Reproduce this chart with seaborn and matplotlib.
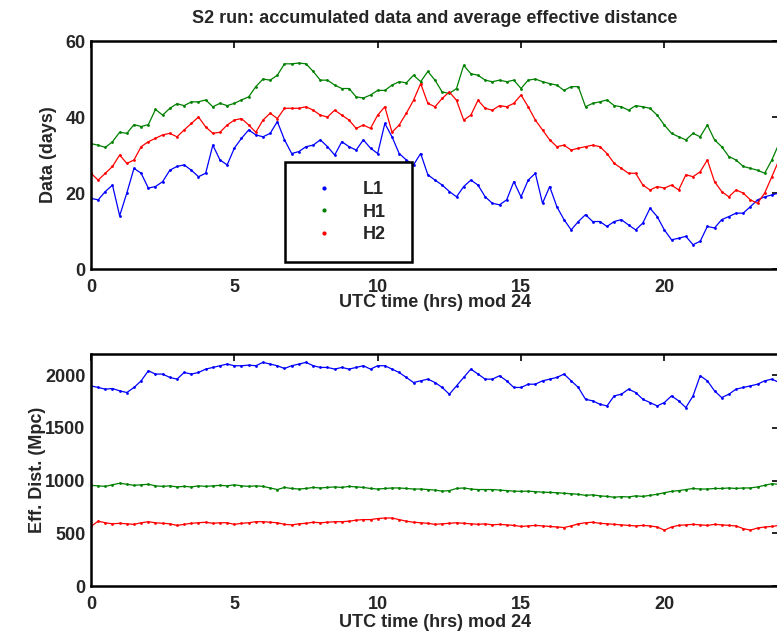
import numpy as np
import pandas as pd
import matplotlib
matplotlib.use("Agg")
import matplotlib.pyplot as plt
from matplotlib.lines import Line2D
import seaborn as sns

# sampling times (hours, UTC mod 24) at which the values were read
hours = np.arange(0, 24.01, 0.25)

detectors = ["L1", "H1", "H2"]
colors = {"L1": "#0000ff", "H1": "#008000", "H2": "#ff0000"}

# accumulated data (days)
l1_days = [18.6, 18.2, 20.4, 22.1, 14.0, 20.0, 26.5, 25.2,
           21.3, 21.7, 23.0, 26.0, 27.0, 27.4, 26.0, 24.3,
           25.2, 32.6, 28.7, 27.4, 31.8, 34.4, 36.6, 35.3,
           34.8, 35.7, 38.8, 34.0, 30.4, 30.9, 32.2, 32.6,
           34.0, 32.2, 30.0, 33.5, 32.2, 31.3, 34.0, 31.8,
           30.4, 38.3, 34.8, 30.4, 28.7, 27.4, 30.4, 24.8,
           23.4, 22.1, 20.4, 19.0, 21.7, 23.4, 22.1, 19.0,
           17.3, 16.9, 18.2, 23.0, 19.0, 23.4, 25.2, 17.3,
           21.7, 16.4, 13.0, 10.3, 12.5, 14.3, 12.5, 12.5,
           11.2, 12.5, 13.0, 11.6, 10.3, 12.1, 16.0, 13.8,
           10.3, 7.7, 8.1, 8.6, 6.4, 7.3, 11.2, 10.8,
           13.0, 13.8, 14.7, 14.7, 16.4, 18.2, 19.0, 19.5,
           20.0]
h1_days = [33.0, 32.6, 32.0, 33.5, 36.0, 35.7, 38.0, 37.5,
           38.0, 42.0, 40.5, 42.3, 43.5, 43.0, 44.0, 44.0,
           44.5, 42.7, 43.6, 43.0, 43.6, 44.5, 45.3, 48.0,
           50.0, 49.7, 51.0, 54.0, 54.0, 54.2, 54.0, 52.0,
           49.7, 49.7, 48.4, 47.5, 47.5, 45.3, 45.0, 45.8,
           47.0, 47.0, 48.4, 49.3, 49.0, 51.0, 49.3, 52.0,
           49.7, 46.6, 46.2, 47.5, 53.6, 51.4, 51.0, 49.7,
           49.3, 49.7, 49.3, 49.7, 47.5, 49.7, 50.0, 49.3,
           48.8, 48.4, 47.0, 48.0, 48.0, 42.7, 43.6, 44.0,
           44.5, 43.0, 42.7, 41.8, 43.0, 42.7, 42.3, 40.5,
           37.9, 35.7, 34.8, 34.0, 35.7, 34.8, 37.9, 34.0,
           32.2, 29.6, 28.7, 27.0, 26.5, 26.0, 25.2, 28.7,
           33.0]
h2_days = [25.2, 23.4, 25.2, 27.0, 30.0, 27.8, 28.7, 32.2,
           33.5, 34.4, 35.3, 35.7, 34.8, 36.6, 38.3, 40.0,
           37.4, 35.7, 36.0, 37.9, 39.2, 39.6, 37.9, 36.0,
           39.2, 41.0, 39.6, 42.3, 42.3, 42.3, 42.7, 41.8,
           40.5, 40.0, 41.8, 40.5, 39.2, 37.0, 37.9, 37.0,
           40.5, 42.7, 36.0, 37.9, 41.0, 44.4, 48.8, 43.6,
           42.7, 44.9, 46.6, 44.4, 39.2, 40.5, 44.4, 42.3,
           41.8, 43.0, 42.7, 43.6, 45.8, 42.7, 39.2, 36.6,
           34.0, 32.2, 32.6, 31.3, 31.8, 32.2, 32.6, 32.2,
           30.4, 27.8, 26.5, 25.2, 25.2, 22.1, 20.8, 21.7,
           21.3, 22.1, 20.8, 24.8, 24.3, 25.6, 28.7, 23.0,
           20.4, 19.0, 20.8, 20.0, 18.2, 17.3, 20.0, 24.3,
           28.7]

# average effective distance (Mpc)
l1_mpc = [1898, 1883, 1867, 1873, 1851, 1835, 1883, 1946,
          2041, 2010, 2010, 1978, 1962, 2025, 2010, 2025,
          2057, 2073, 2089, 2105, 2089, 2089, 2095, 2089,
          2121, 2105, 2089, 2063, 2089, 2105, 2121, 2089,
          2073, 2073, 2057, 2073, 2057, 2073, 2089, 2057,
          2089, 2089, 2057, 2025, 1978, 1930, 1946, 1962,
          1930, 1883, 1819, 1898, 1978, 2057, 2010, 1962,
          1962, 1994, 1946, 1883, 1883, 1914, 1914, 1946,
          1962, 1978, 2010, 1946, 1883, 1771, 1756, 1724,
          1708, 1803, 1819, 1867, 1835, 1771, 1740, 1708,
          1740, 1803, 1756, 1692, 1803, 1994, 1946, 1851,
          1787, 1819, 1867, 1883, 1898, 1914, 1946, 1962,
          1930]
h1_mpc = [955, 950, 945, 960, 975, 965, 955, 960,
          965, 950, 945, 950, 940, 945, 940, 950,
          945, 950, 955, 950, 960, 950, 945, 950,
          945, 930, 915, 935, 925, 920, 925, 935,
          930, 935, 940, 935, 945, 940, 935, 925,
          920, 925, 930, 930, 925, 920, 920, 915,
          910, 900, 905, 925, 930, 920, 915, 915,
          915, 910, 905, 900, 898, 900, 895, 890,
          888, 885, 880, 875, 870, 860, 865, 855,
          850, 842, 848, 845, 855, 850, 860, 870,
          885, 898, 905, 915, 925, 920, 920, 925,
          925, 930, 925, 930, 930, 940, 955, 970,
          965]
h2_mpc = [565, 615, 600, 590, 595, 590, 585, 600,
          610, 600, 595, 590, 575, 585, 595, 600,
          605, 595, 600, 600, 585, 595, 600, 610,
          610, 605, 600, 585, 580, 590, 595, 605,
          600, 605, 610, 610, 615, 625, 630, 630,
          640, 645, 645, 630, 615, 605, 600, 595,
          585, 590, 595, 600, 595, 590, 585, 590,
          580, 585, 580, 575, 565, 570, 575, 570,
          565, 560, 555, 570, 590, 600, 605, 595,
          590, 585, 580, 575, 570, 575, 570, 560,
          530, 560, 575, 580, 585, 580, 575, 585,
          580, 575, 570, 545, 530, 550, 560, 565,
          575]

days = pd.DataFrame({"t": np.tile(hours, 3),
                     "v": l1_days + h1_days + h2_days,
                     "det": np.repeat(detectors, len(hours))})
dist = pd.DataFrame({"t": np.tile(hours, 3),
                     "v": l1_mpc + h1_mpc + h2_mpc,
                     "det": np.repeat(detectors, len(hours))})

sns.set_style("white")
plt.rcParams["font.family"] = ["Liberation Sans", "DejaVu Sans"]
plt.rcParams["font.size"] = 13
plt.rcParams["font.weight"] = "bold"
plt.rcParams["axes.labelweight"] = "bold"
plt.rcParams["axes.titleweight"] = "bold"

fs = 13
fig = plt.figure(figsize=(7.77, 6.33), dpi=100)
ax1 = fig.add_axes([0.1171, 0.575, 0.8855, 0.3602])
ax2 = fig.add_axes([0.1171, 0.0742, 0.8855, 0.3665])

for ax, df in [(ax1, days), (ax2, dist)]:
    sns.lineplot(data=df, x="t", y="v", hue="det", palette=colors,
                 marker=".", markersize=4, markeredgewidth=0,
                 linewidth=0.9, legend=False, ax=ax)
    ax.set_xlim(0, 24)
    ax.set_xticks([0, 5, 10, 15, 20])
    ax.tick_params(axis="x", direction="in", top=True, length=5,
                   width=1.4, labelsize=fs, pad=7)
    ax.tick_params(axis="y", direction="in", right=True, length=5,
                   width=1.4, labelsize=fs, pad=4)
    for s in ax.spines.values():
        s.set_linewidth(1.8)
        s.set_color("black")

ax1.set_xlabel("UTC time (hrs) mod 24", fontsize=fs, labelpad=-1)
ax2.set_xlabel("UTC time (hrs) mod 24", fontsize=fs, labelpad=1)

ax1.set_ylim(0, 60)
ax1.set_yticks([0, 20, 40, 60])
ax1.set_ylabel("Data (days)", fontsize=fs, labelpad=6)
ax1.set_title("S2 run: accumulated data and average effective distance",
              fontsize=fs, pad=13)

ax2.set_ylim(0, 2200)
ax2.set_yticks([0, 500, 1000, 1500, 2000])
ax2.set_ylabel("Eff. Dist. (Mpc)", fontsize=fs, labelpad=-1)

handles = [Line2D([], [], marker=".", linestyle="none", color=colors[d],
                  markersize=4) for d in detectors]
leg = ax1.legend(handles, detectors, loc="lower left",
                 bbox_to_anchor=(0.282, 0.031, 0.185, 0.438), mode="expand",
                 borderaxespad=0, fancybox=False, framealpha=1,
                 edgecolor="black", borderpad=1.05, labelspacing=0.3,
                 handlelength=2.2, handletextpad=1.05, fontsize=fs)
leg.get_frame().set_linewidth(1.8)

fig.savefig("out.png", dpi=100)
